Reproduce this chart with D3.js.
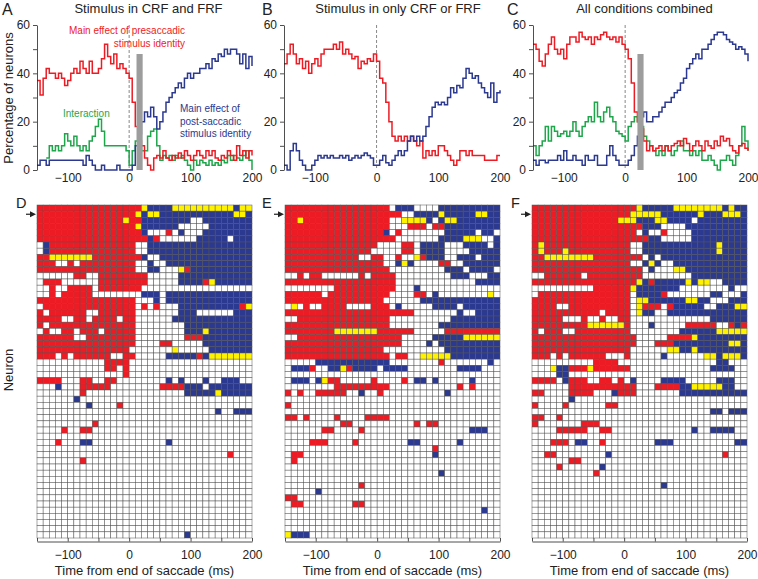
<!DOCTYPE html>
<html><head><meta charset="utf-8">
<script src="https://cdn.jsdelivr.net/npm/d3@7"></script>
<style>body{margin:0;background:#fff}svg{display:block}text{font-family:Arial,"Liberation Sans",Helvetica,sans-serif}</style>
</head><body><svg id="c" width="758" height="579"></svg>
<script>
// ---------- DATA ----------
const tickLabelsX = [-100, 0, 100, 200];
const tickLabelsY = [0, 20, 40, 60];
const panelTitles = ["Stimulus in CRF and FRF", "Stimulus in only CRF or FRF", "All conditions combined"];
// percentage of neurons, one value per 5 ms from -150 to 200 ms
const redA = [37,31,38,42,40,40,38,40,38,35, 37,40,42,40,45,42,40,45,40,40, 42,46,52,47,44,48,42,44,42,40,
  38,28,18,12,10,5,2,0,5,6, 5,8,5,4,6,5,7,5,8,6, 4,6,8,6,5,8,6,8,5,4, 6,5,8,6,4,10,6,8,5,8, 6];
const blueA = [2,4,4,2,4,4,4,4,4,4, 4,4,4,4,4,2,6,4,2,0, 0,2,0,0,0,0,2,0,0,0,
  0,2,10,15,20,24,22,26,22,17, 20,24,28,30,32,34,36,34,38,40, 38,40,40,42,42,44,42,46,45,48, 47,50,48,50,50,48,44,48,42,47, 43];
const greenA = [null,null,null,5,10,8,10,8,10,15, 12,10,14,10,8,10,8,12,14,18, 21,16,10,10,10,10,10,10,10,8,
  2,8,12,10,8,8,14,16,17,10, 4,6,5,6,4,6,5,6,4,2, 0,4,2,4,3,2,4,2,3,2, 4,3,6,4,6,5,4,6,8,4, 0];
const redB = [44,48,52,48,44,46,42,45,40,44, 46,43,48,50,50,50,52,50,53,48, 50,48,46,47,42,45,44,46,45,48,
  45,38,36,28,20,14,12,14,12,14, 12,14,12,10,12,5,8,6,8,6, 10,10,8,6,4,2,4,8,8,6, 8,6,6,6,6,4,4,4,4,6, 6];
const blueB = [2,0,8,11,8,4,2,0,0,2, 4,6,5,6,5,6,5,5,6,5, 6,4,5,6,5,6,7,6,5,2,
  2,4,6,3,2,4,6,8,6,8, 12,14,12,14,12,14,18,22,26,28, 27,28,27,30,34,32,35,34,38,42, 40,38,39,36,34,32,30,36,28,32, 33];
const redC = [52,50,45,43,48,52,55,50,48,50, 46,52,55,55,53,57,55,54,55,52, 55,54,56,57,55,54,55,53,55,52,
  50,46,36,24,20,17,12,8,10,8, 9,10,8,10,8,10,11,12,10,13, 11,8,10,12,10,8,12,10,9,12, 10,14,12,13,10,8,7,10,11,9, 8];
const blueC = [4,2,4,4,3,4,4,4,6,4, 8,4,4,6,4,4,2,6,4,4, 6,2,2,2,6,10,6,4,2,2,
  2,4,6,10,14,22,24,20,20,22, 22,24,26,28,28,30,32,33,36,38, 42,44,46,48,46,50,50,52,54,56, 57,57,56,54,53,52,50,51,50,48, 45];
const greenC = [10,6,10,12,18,12,18,16,14,15, 16,14,16,20,16,14,18,20,22,20, 28,22,20,24,26,22,20,16,15,14,
  12,18,20,22,20,18,14,12,10,8, 6,8,6,10,8,6,8,10,12,8, 8,6,8,6,8,4,4,6,4,2, 0,4,4,6,4,2,6,10,18,12, 8];
// gray bars (ms range, height %)
const barA = [12, 22, 48];
const barC = [20, 30, 48];

// Significance maps: 54 neurons x 35 bins of 10 ms (run-length: count + code; R=pre, B=post, Y=interaction)
const gridD = [
 "17R Y 4B 10Y B 2Y","16R Y B 2Y 12B 2Y B","14R Y 2R 8B 2. 8B","16R Y 6B 5. 7B","17R B 3. R . B 3. 8B",
 "18R B R 6. 5B . 3B",". B 14R 2. 17B",". B 14R 2. 17B","2R 7Y 8R B 2. 15B","3R 2. R . 9R 2. B 2. 14B",
 "16R 2. 2B 3. Y R 10B","6. 2R 2. 8R 5. 12B",". 3R 6. 8R 5. 4B R Y 6B","2. R 2. 4R . 7R 18.","2. R . 5R 8. 3B . 14B",
 "16R 3. B . 14B",". 15R . R . R 3. 10B R Y","R . 6R 2. 6R 7. 3B 6. 3B","4R 2. 2R . 4R . 2R 6. 13B","R . 14R 8. 11B",
 ". R 2. 2R . 3R . 5R 8. 3B Y 7B","6R 2. 8R 8. 3R 8B","16R 4. 2R 5. 8B","15R 7. Y 5. 7B","3R . R . 6R 2. 2R 5. 5B R B 7Y",
 "11. 4R","11. 2R . R","14. R","4R 3. 2R 2. 2R 8. B . B 3. B 2. 3B 2.","3. B 3. 5R 8. 4R 3B . 7B",
 "7. R 16. 5B Y 5B","6. B","8. B 4. R","29. B 2. 3B","",
 "9. R","4. R 2. 2R","","3. R 3. 2B 12. B","",
 "31. R","7. R","","","","","","","","","","","","24. B"];
const gridE = [
 "17R . 3B 4. 10B","19R 2. 4B Y 5B 2Y 2B","2R Y 14R 2. 4Y B . B 2Y 7B","17R 3. 3R . 2R 9B","16R B . R 7. 5B . 2B .",
 "18R 7. 4B 3Y 2. B","15R 4. 2R . 4B 3. 4B . B","14R 5. 2R . 4B 4. 5B","12R 2. 2R 2. R 2. Y R 3B 2. 3B . 3B","16R 2. B Y B 4. 2R 2. 6B",
 "17R 9. 3B . 4B .","2. R . 2R 6. R . 4R 9. 3B 3. 2B","18R 13. 4B","8. 10R 3. B 13.","6R . 10R 4. 2R . B 8. Y .",
 "16R 6. 13B",". Y . R 2. 4R 4. 3R . B 5. 4B . 6B","21R 7. B 2. 4B","2. 15R 10. 8B","17R 8. 10B",
 "8R 7Y 6R 5. 9R","2. 17R 5. 5B 6Y","19R 4. B . 10B","16R 10. 9B","17R . 2R 2. 5Y 8B",
 "5. 12B 8. R 7. B .",". 3B R 2. 2B Y R 4B . 4B 8. 4B","",". 3B . B Y 2R 5. R 4. R . 2B . B 5. B","8. 9R 11. R . R",
 "R . R 2. 5R 2. B 2. R 10. B","","R","","2R . R 4. R 4. 4R",
 "9. 2R 10. R . 2R","6. 2R 4. R 17. 3B","","4. 3R 4. R 8. 2B 6. B","24. R",
 ". 2R 21. B",". R","","25. B","","12. R","5. B","2R",". 2R 8. 2R","32. B","","","","Y 3B"];
const gridF = [
 "17R Y 5B 8Y B Y 2B","16R 5Y 6B Y 3B 3Y B","14R 3Y 3B 2Y 4B . 8B","18R 3B 4. 10B","17R . B 2. R 4. 9B",
 "19R 2B 5. 9B","R Y 14R 2. 12B Y 4B","R Y 3R Y 10R 2. 12B Y 4B","2R 8Y 8R . B . 14B","16R 2. B Y B 2. 12B",
 "18R . B 3. 2Y 10B","2. 6R . 9R 8. 9B","17R Y B R 5B Y B 2Y 2. 4B","10. 6R Y 7B 8. B 2.",". 15R . 4B R 7. 2B 3. B",
 "16R . 2Y 6B 2Y 2B 3. 3B","4R 2. 10R . Y 3R . R 5B 2. 3B 2Y","11R . 4R . Y 2B 2. 13B","5R 3. R 2. R 2. 2R 13. 6B","9R 6Y R 3. B 5. 5R 2. R B R",
 "R . 3R 2. 9R 8. 6B 5Y","17R 5. 4R Y 8B","17R 3. 3R 9B 2Y B","16R 6. 2Y 2B Y 8B","3R . R . 6R 3. R 5. B 6. 2Y B 3Y B",
 "10. 4R 16. 2B","3. Y 2B 3R Y 6R 13. 4B","4. 2B","4R . B 3R 2. 2R . R . B 4. 4B 5. 3B","6. 11R 3. 4R 2B 5Y 2B",
 "2R 4. 4R 3. B 3R 7. 11B","6. B","R 4. R 6. 2R","29. 2B . 3B","2R 2. R",
 "R 7. 3R","4. 5R 2. 2R 13. B 2. 4B","","3. 3R . 2B 2. R 8. 3B 10. 2B","",
 "2. 2R 8. B 18. R","6. 2R","4. R 6. B","10. R","","21. B","","","","","","","",""];

// ---------- DRAW ----------
const svg = d3.select("#c");
const FONT = "Arial, 'Liberation Sans', Helvetica, sans-serif";
const col = {red:"#ed1c24", blue:"#2b3990", green:"#1ea64b", yellow:"#fff200"};
const times = d3.range(-150, 201, 5);
const yTop = d3.scaleLinear().domain([0, 60]).range([170, 25]);

const topPanels = [
  {x0:37, x1:252, letter:"A", lx:2, series:[["green",greenA],["red",redA],["blue",blueA]], bar:barA},
  {x0:284, x1:500, letter:"B", lx:262, series:[["red",redB],["blue",blueB]], bar:null},
  {x0:533, x1:748, letter:"C", lx:507, series:[["green",greenC],["red",redC],["blue",blueC]], bar:barC}
];

function styleAxis(g){
  g.selectAll("text").attr("font-family", FONT).attr("font-size", 12).attr("fill", "#222");
  g.selectAll("line,path").attr("stroke", "#222").attr("stroke-width", 0.8);
}

topPanels.forEach((p, i) => {
  const x = d3.scaleLinear().domain([-150, 200]).range([p.x0, p.x1]);
  const g = svg.append("g");
  g.append("line").attr("x1", x(0)).attr("x2", x(0)).attr("y1", yTop(60)).attr("y2", yTop(0))
    .attr("stroke", "#888").attr("stroke-width", 1).attr("stroke-dasharray", "3,2");
  const line = d3.line().defined(d => d[1] != null).x(d => x(d[0])).y(d => yTop(d[1])).curve(d3.curveStepAfter);
  p.series.forEach(([c, vals]) => {
    g.append("path").datum(times.map((t, k) => [t, vals[k]]))
      .attr("d", line).attr("fill", "none").attr("stroke", col[c]).attr("stroke-width", 1.5);
  });
  if (p.bar) {
    g.append("rect").attr("x", x(p.bar[0])).attr("width", x(p.bar[1]) - x(p.bar[0]))
      .attr("y", yTop(p.bar[2])).attr("height", yTop(0) - yTop(p.bar[2])).attr("fill", "#9d9d9d");
  }
  const ay = g.append("g").attr("transform", `translate(${p.x0},0)`)
    .call(d3.axisLeft(yTop).tickValues(d3.range(0, 61, 10)).tickSize(4).tickSizeOuter(0).tickPadding(3)
      .tickFormat(d => tickLabelsY.includes(d) ? d : ""));
  styleAxis(ay);
  const ax = g.append("g").attr("transform", `translate(0,170)`)
    .call(d3.axisBottom(x).tickValues(tickLabelsX).tickSize(0).tickPadding(3));
  ax.select(".domain").remove();
  styleAxis(ax);
  svg.append("text").attr("x", (p.x0 + p.x1) / 2 + (i === 1 ? 6 : 4)).attr("y", 13).attr("text-anchor", "middle")
    .attr("font-size", 13).attr("fill", "#222").text(panelTitles[i]);
  svg.append("text").attr("x", p.lx).attr("y", 15).attr("font-size", 16).attr("fill", "#222").text(p.letter);
});

// annotations in A
const ann = svg.append("g").attr("font-size", 10);
ann.append("text").attr("x", 185).attr("y", 34).attr("text-anchor", "end").attr("fill", col.red).text("Main effect of presaccadic");
ann.append("text").attr("x", 185).attr("y", 46.5).attr("text-anchor", "end").attr("fill", col.red).text("stimulus identity");
ann.append("text").attr("x", 63).attr("y", 117).attr("fill", col.green).text("Interaction");
ann.append("text").attr("x", 180).attr("y", 112).attr("fill", col.blue).text("Main effect of");
ann.append("text").attr("x", 180).attr("y", 124.5).attr("fill", col.blue).text("post-saccadic");
ann.append("text").attr("x", 180).attr("y", 136.5).attr("fill", col.blue).text("stimulus identity");

svg.append("text").attr("transform", "translate(13,98) rotate(-90)").attr("text-anchor", "middle")
  .attr("font-size", 13).attr("fill", "#222").text("Percentage of neurons");

// grids
const bins = d3.range(-150, 200, 10);
const nRows = 54;
const yRow = d3.scaleBand().domain(d3.range(nRows)).range([205, 538]);
function parseRow(s) {
  const out = []; const re = /(\d*)([RBY.])/g; let m;
  while ((m = re.exec(s || ""))) { const n = m[1] ? +m[1] : 1; for (let k = 0; k < n; k++) out.push(m[2]); }
  while (out.length < bins.length) out.push(".");
  return out.slice(0, bins.length);
}
const fillOf = {R: col.red, B: col.blue, Y: col.yellow, ".": "#fff"};
const gridPanels = [
  {x0:37, x1:252, letter:"D", lx:16, ax:22, rows:gridD},
  {x0:285, x1:500, letter:"E", lx:262, ax:270, rows:gridE},
  {x0:532, x1:747, letter:"F", lx:511, ax:517, rows:gridF}
];
gridPanels.forEach(p => {
  const x = d3.scaleLinear().domain([-150, 200]).range([p.x0, p.x1]);
  const g = svg.append("g");
  const cells = [];
  d3.range(nRows).forEach(r => parseRow(p.rows[r]).forEach((c, k) => cells.push({r, t: bins[k], c})));
  g.selectAll("rect").data(cells).join("rect")
    .attr("x", d => x(d.t)).attr("y", d => yRow(d.r))
    .attr("width", x(10) - x(0)).attr("height", yRow.bandwidth())
    .attr("fill", d => fillOf[d.c]).attr("stroke", "#555").attr("stroke-width", 0.5);
  const axg = g.append("g").attr("transform", `translate(0,541.5)`)
    .call(d3.axisBottom(x).tickValues(d3.range(-150, 201, 50)).tickSize(-3.5).tickSizeOuter(0).tickPadding(9)
      .tickFormat(d => tickLabelsX.includes(d) ? d3.format("")(d).replace("-", "\u2212") : ""));
  styleAxis(axg);
  svg.append("text").attr("x", (p.x0 + p.x1) / 2).attr("y", 575).attr("text-anchor", "middle")
    .attr("font-size", 13).attr("fill", "#222").text("Time from end of saccade (ms)");
  svg.append("text").attr("x", p.lx).attr("y", 208).attr("font-size", 14.5).attr("fill", "#222").text(p.letter);
  const ay = yRow(1) + yRow.bandwidth() / 2;
  svg.append("line").attr("x1", p.ax + 4).attr("x2", p.ax + 10).attr("y1", ay).attr("y2", ay).attr("stroke", "#222").attr("stroke-width", 1.2);
  svg.append("path").attr("d", `M${p.ax + 14},${ay} L${p.ax + 8},${ay - 3} L${p.ax + 8},${ay + 3} Z`).attr("fill", "#222");
});
svg.append("text").attr("transform", "translate(13,370) rotate(-90)").attr("text-anchor", "middle")
  .attr("font-size", 13).attr("fill", "#222").text("Neuron");
</script></body></html>
